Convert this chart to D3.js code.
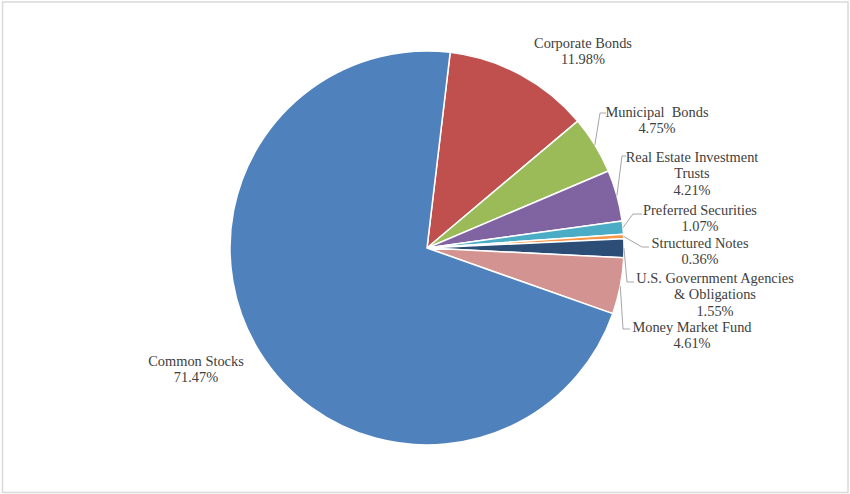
<!DOCTYPE html>
<html>
<head>
<meta charset="utf-8">
<script src="https://cdn.jsdelivr.net/npm/d3@7"></script>
<style>
  html, body { margin: 0; padding: 0; background: #fff; }
  svg { display: block; }
  text { font-family: "Liberation Serif", "Times New Roman", serif; font-size: 14.4px; fill: #404040; }
</style>
</head>
<body>
<svg id="chart" width="850" height="494"></svg>
<script>
// Portfolio allocation, clockwise from the Corporate Bonds slice
const categories = [
  "Corporate Bonds", "Municipal  Bonds", "Real Estate Investment Trusts",
  "Preferred Securities", "Structured Notes",
  "U.S. Government Agencies & Obligations", "Money Market Fund", "Common Stocks"
];
const percents = [11.98, 4.75, 4.21, 1.07, 0.36, 1.55, 4.61, 71.47];
const colors = ["#C0504D", "#9BBB59", "#8064A2", "#4BACC6", "#F79646", "#2C4D75", "#D39391", "#4F81BD"];

// Label text lines per slice
const labelLines = [
  ["Corporate Bonds"],
  ["Municipal  Bonds"],
  ["Real Estate Investment", "Trusts"],
  ["Preferred Securities"],
  ["Structured Notes"],
  ["U.S. Government Agencies", "& Obligations"],
  ["Money Market Fund"],
  ["Common Stocks"]
];

// Label layout: centre x and first-line y of each label block
const labelAnchors = [[583, 43], [657, 112], [692, 157], [700, 210], [700, 243], [715, 278], [692, 327], [196, 361]];
// Leader line elbow and end points (null = no leader)
const leaderElbows = [null, [600, 113], [622, 156], [633, 214], [642, 247], [627, 282], [623, 329], null];
const leaderEnds   = [null, [606, 113], [626, 156], [642, 214], [649, 247], [634, 282], [630, 329], null];

const svg = d3.select("#chart");
const cx = 427, cy = 248, radius = 197;
const lineH = 16.3;

// Chart area frame
svg.append("rect")
  .attr("x", 2.5).attr("y", 2).attr("width", 845.5).attr("height", 490.5)
  .attr("fill", "none").attr("stroke", "#d9d9d9").attr("stroke-width", 1.5);

const startAngle = 6.76 * Math.PI / 180;
const pie = d3.pie().sort(null).value(d => d)
  .startAngle(startAngle).endAngle(startAngle + 2 * Math.PI);
const arcs = pie(percents);
const arc = d3.arc().innerRadius(0).outerRadius(radius);

const g = svg.append("g").attr("transform", `translate(${cx},${cy})`);
g.selectAll("path.slice").data(arcs).join("path")
  .attr("class", "slice")
  .attr("d", arc)
  .attr("fill", (d, i) => colors[i])
  .attr("stroke", "#fff")
  .attr("stroke-width", 1.5)
  .attr("stroke-linejoin", "round");

// Leader lines from slice edge (mid-angle) to the label
arcs.forEach((a, i) => {
  if (!leaderElbows[i]) return;
  const mid = (a.startAngle + a.endAngle) / 2;
  const sx = cx + radius * Math.sin(mid);
  const sy = cy - radius * Math.cos(mid);
  svg.append("polyline")
    .attr("points", [[sx, sy], leaderElbows[i], leaderEnds[i]].map(p => p.join(",")).join(" "))
    .attr("fill", "none")
    .attr("stroke", "#a6a6a6")
    .attr("stroke-width", 1);
});

// Labels: category name lines followed by the percentage
const fmt = d3.format(".2f");
arcs.forEach((a, i) => {
  const [lx, ly] = labelAnchors[i];
  const lines = labelLines[i].concat([fmt(percents[i]) + "%"]);
  const t = svg.append("text")
    .attr("text-anchor", "middle")
    .attr("dominant-baseline", "central");
  lines.forEach((ln, k) => {
    t.append("tspan")
      .attr("x", lx)
      .attr("y", ly + k * lineH)
      .style("white-space", "pre")
      .text(ln);
  });
});
</script>
</body>
</html>
